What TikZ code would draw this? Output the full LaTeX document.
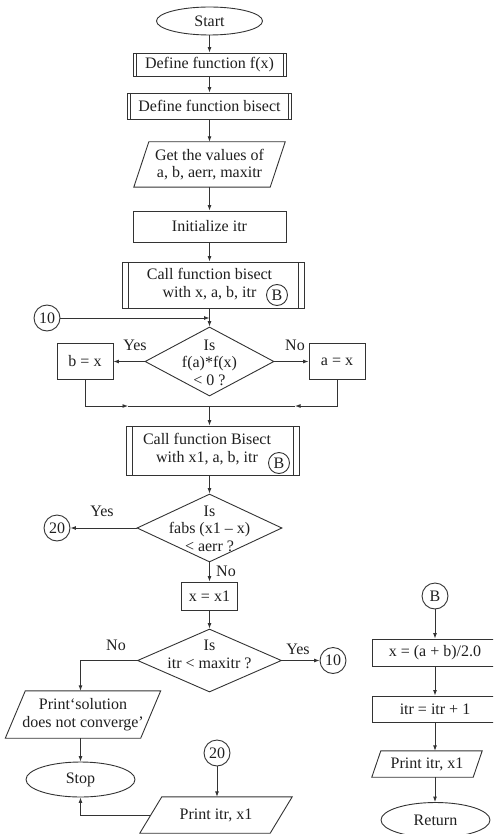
\documentclass[tikz,border=0pt]{standalone}
\usepackage{fontspec}
\setmainfont{Liberation Serif}
\usetikzlibrary{shapes.geometric,arrows.meta}
\tikzset{
  base/.style={draw=black!80, line width=0.9pt, inner sep=0pt, align=center, text=black!88},
  term/.style={base, ellipse},
  proc/.style={base, rectangle},
  predef/.style={proc, path picture={
      \draw[black!80, line width=0.9pt]
        ([xshift=#1]path picture bounding box.north west) -- ([xshift=#1]path picture bounding box.south west)
        ([xshift=-#1]path picture bounding box.north east) -- ([xshift=-#1]path picture bounding box.south east);}},
  dec/.style={base, diamond},
  conn/.style={base, circle, minimum size=26pt},
  smallconn/.style={base, circle, minimum size=21pt},
  para/.style={inner sep=0pt, align=center, text=black!88},
  txt/.style={inner sep=0pt, align=center, text=black!88},
  lab/.style={inner sep=0pt, text=black!88},
  arr/.style={draw=black!80, line width=0.9pt, -{Latex[length=5.5pt,width=4pt]}},
  plain/.style={draw=black!80, line width=0.9pt},
  every node/.append style={font=\fontsize{16}{17.5}\selectfont}
}
\newcommand\mypara[2]{\draw[plain] ([xshift=#2]#1.north west) -- (#1.north east) -- ([xshift=-#2]#1.south east) -- (#1.south west) -- cycle;}
\begin{document}
\begin{tikzpicture}[x=1pt,y=-1pt]
\useasboundingbox (0,0) rectangle (493,834);
\clip (0,0) rectangle (493,834);
% main column
\node[term, minimum width=106pt, minimum height=28pt] (start) at (209.5,21) {Start};
\node[predef=3pt, minimum width=153pt, minimum height=23pt] (deff) at (209.5,64.5) {Define function f(x)};
\node[predef=3pt, minimum width=164pt, minimum height=26pt] (defb) at (209.5,106) {Define function bisect};
\node[para, minimum width=151pt, minimum height=45pt] (get) at (209.5,164.5) {Get the values of\\a, b, aerr, maxitr};
\mypara{get}{15pt}
\node[proc, minimum width=153pt, minimum height=31pt] (init) at (209.5,226.5) {Initialize itr};
\node[predef=6pt, minimum width=182pt, minimum height=46pt] (call1) at (213,285) {};
\node[txt] (call1t) at (209.5,284) {Call function bisect\\with x, a, b, itr};
\node[smallconn] (b1) at (277,295) {B};
\node[dec, minimum width=129pt, minimum height=69pt] (d1) at (209.5,361.5) {};
\node[txt] (d1t) at (209.5,362.5) {Is\\f(a)*f(x)\\\textless{} 0 ?};
\node[proc, minimum width=56pt, minimum height=36pt] (bx) at (85,361.5) {b = x};
\node[proc, minimum width=56pt, minimum height=36pt] (ax) at (337,361.5) {a = x};
\node[lab] (yes1) at (135,345) {Yes};
\node[lab] (no1) at (295,345) {No};
\node[conn] (c10a) at (47,318) {10};
\coordinate (merge) at (209.5,406);
\coordinate (mL) at (128,406);
\coordinate (mR) at (295,406);
\node[predef=6pt, minimum width=173pt, minimum height=49pt] (call2) at (212.5,450.5) {};
\node[txt] (call2t) at (207,449) {Call function Bisect\\with x1, a, b, itr};
\node[smallconn] (b2) at (279,463) {B};
\node[dec, minimum width=145pt, minimum height=68pt] (d2) at (209.5,528) {};
\node[txt] (d2t) at (209.5,528.5) {Is\\fabs (x1 -- x)\\\textless{} aerr ?};
\node[lab] (yes2) at (102,511) {Yes};
\node[conn] (c20a) at (57,528) {20};
\node[lab] (no2) at (226,571) {No};
\node[proc, minimum width=56pt, minimum height=28pt] (xx1) at (209.5,596) {x = x1};
\node[dec, minimum width=144pt, minimum height=63pt] (d3) at (209.5,660.5) {};
\node[txt] (d3t) at (209.5,654.5) {Is\\itr \textless{} maxitr ?};
\node[lab] (no3) at (116,645) {No};
\node[lab] (yes3) at (298,649) {Yes};
\node[conn] (c10b) at (333,660.5) {10};
\node[para, minimum width=155pt, minimum height=47pt] (nc) at (83,714.5) {Print`solution\\does not converge'};
\mypara{nc}{20pt}
\node[term, minimum width=109pt, minimum height=35pt] (stop) at (80.5,779.5) {Stop};
\node[conn] (c20b) at (217,753) {20};
\node[para, minimum width=152pt, minimum height=36pt] (pr) at (216,815) {Print itr, x1};
\mypara{pr}{22pt}
% right column
\node[conn] (cB) at (435,596) {B};
\node[proc, minimum width=126pt, minimum height=27pt] (mid) at (435,652.5) {x = (a + b)/2.0};
\node[proc, minimum width=126pt, minimum height=26pt] (itb) at (435,709) {itr = itr + 1};
\node[para, minimum width=110pt, minimum height=26pt] (pr2) at (427,764) {Print itr, x1};
\mypara{pr2}{9pt}
\node[term, minimum width=109pt, minimum height=35pt] (ret) at (435.5,820) {Return};
% connectors
\draw[arr] (start.south) -- (deff.north);
\draw[arr] (deff.south) -- (defb.north);
\draw[arr] (defb.south) -- (get.north);
\draw[arr] (get.south) -- (init.north);
\draw[arr] (init.south) -- (init.south |- call1.north);
\draw[arr] (call1.south -| d1.north) -- (d1.north);
\draw[arr] (c10a.east) -- (c10a -| d1.north);
\draw[arr] (d1.west) -- (bx.east);
\draw[arr] (d1.east) -- (ax.west);
\draw[arr] (bx.south) |- (mL);
\draw[arr] (ax.south) |- (mR);
\draw[plain] (mL) -- (mR);
\draw[arr] (merge) -- (merge |- call2.north);
\draw[arr] (call2.south -| d2.north) -- (d2.north);
\draw[arr] (d2.west) -- (c20a.east);
\draw[arr] (d2.south) -- (xx1.north);
\draw[arr] (xx1.south) -- (d3.north);
\draw[arr] (d3.east) -- (c10b.west);
\draw[arr] (d3.west) -| (nc.north -| stop.north);
\draw[arr] (nc.south -| stop.north) -- (stop.north);
\draw[arr] (c20b.south) -- (c20b.south |- pr.north);
\draw[arr] ([xshift=11pt]pr.west) -| (stop.south);
\draw[arr] (cB.south) -- (mid.north);
\draw[arr] (mid.south) -- (itb.north);
\draw[arr] (itb.south) -- (itb.south |- pr2.north);
\draw[arr] (pr2.south -| itb.south) -- (ret.north -| itb.south);
\end{tikzpicture}
\end{document}
